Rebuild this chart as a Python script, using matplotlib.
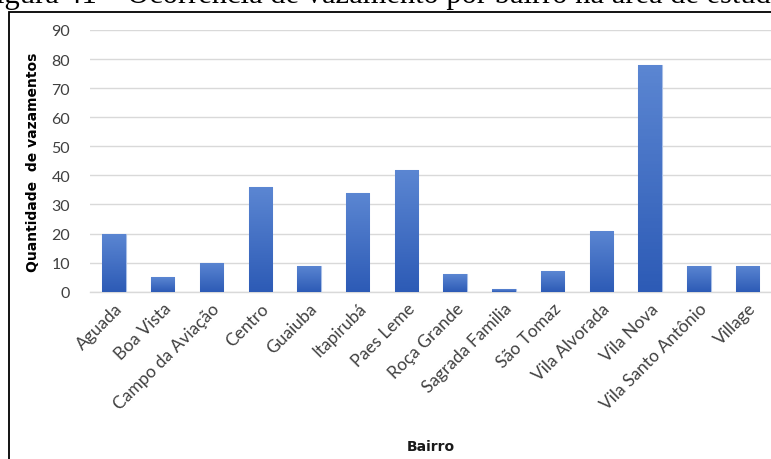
import numpy as np
import matplotlib
matplotlib.use("Agg")
import matplotlib.pyplot as plt
from matplotlib.patches import Rectangle
from matplotlib.colors import LinearSegmentedColormap

bairros = ["Aguada", "Boa Vista", "Campo da Aviação", "Centro", "Guaiuba",
           "Itapirubá", "Paes Leme", "Roça Grande", "Sagrada Familia",
           "São Tomaz", "Vila Alvorada", "Vila Nova", "Vila Santo Antônio",
           "Village"]
vazamentos = [20, 5, 10, 36, 9, 34, 42, 6, 1, 7, 21, 78, 9, 9]
yticks = [0, 10, 20, 30, 40, 50, 60, 70, 80, 90]

W, H = 771, 460
fig = plt.figure(figsize=(W / 100, H / 100), dpi=100)
ax = fig.add_axes([89.6 / W, (H - 292.7) / H, (772 - 89.6) / W, (292.7 - 31) / H])

x = np.arange(len(bairros))
bars = ax.bar(x, vazamentos, width=0.48, color="#3a66c4",
              edgecolor="#a9bfe6", linewidth=0.8, zorder=3)

# gradiente tipo Excel em cada barra
grad = LinearSegmentedColormap.from_list("g", ["#2d5bb6", "#5b86d2"])
for b in bars:
    x0, y0 = b.get_x(), b.get_y()
    img = ax.imshow(np.linspace(0, 1, 64).reshape(-1, 1), cmap=grad,
                    extent=(x0, x0 + b.get_width(), y0, y0 + b.get_height()),
                    origin="lower", aspect="auto", zorder=3)
    img.set_clip_path(b)

ax.set_xlim(-0.5, len(bairros) - 0.5)
ax.set_ylim(0, 90)
ax.set_yticks(yticks)
ax.grid(axis="y", color="#d9d9d9", linewidth=1.0, zorder=0)
for s in ["top", "right", "left"]:
    ax.spines[s].set_visible(False)
ax.spines["bottom"].set_color("#d9d9d9")
ax.spines["bottom"].set_linewidth(1.0)

ax.tick_params(axis="y", length=0, pad=14, labelsize=11.5, labelcolor="#404040")
ax.tick_params(axis="x", length=0, pad=6)
ax.set_xticks(x)
ax.set_xticklabels(bairros, rotation=45, ha="right", rotation_mode="anchor",
                   fontsize=12.5, color="#404040", family="Lato")
for t in ax.get_yticklabels():
    t.set_family("Lato")

fig.text(33 / W, 1 - 162 / H, "Quantidade  de vazamentos", rotation=90,
         ha="center", va="center", fontsize=10, fontweight="bold",
         family="DejaVu Sans", color="black")
fig.text(431 / W, 1 - 447 / H, "Bairro", ha="center", va="center",
         fontsize=10, fontweight="bold", family="DejaVu Sans", color="#1a1a1a")

# legenda da figura cortada no topo
fig.text(0.496, 1 - 3 / H, "Figura 41 – Ocorrência de vazamento por bairro na área de estudo",
         ha="center", va="baseline", fontsize=22, family="Liberation Serif")

fig.add_artist(Rectangle((8.5 / W, -0.1), 1.2, 1.1 - 12.5 / H, transform=fig.transFigure,
                         fill=False, edgecolor="black", linewidth=1.3))

fig.savefig("out.png", dpi=100)
